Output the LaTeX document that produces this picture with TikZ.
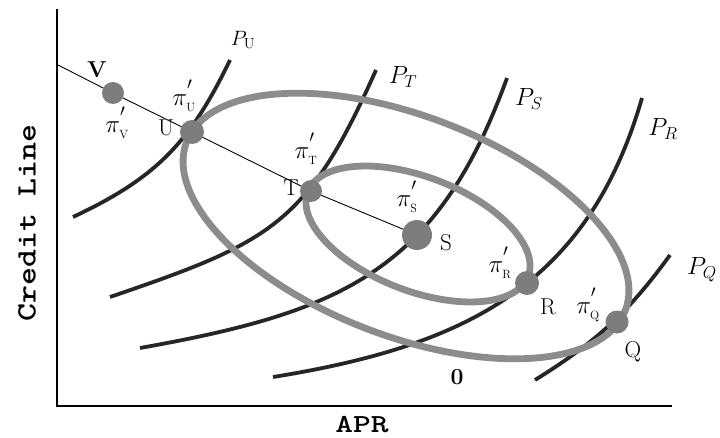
\documentclass[tikz,border=0pt]{standalone}
\usepackage{fontspec}
\usepackage{graphicx}
\definecolor{pdark}{RGB}{38,38,38}
\definecolor{egray}{RGB}{140,140,140}
\definecolor{dgray}{RGB}{125,125,125}
\newcommand{\pilabel}[1]{$\pi^{\raisebox{0.3em}{$\scriptstyle\prime$}}_{\scriptscriptstyle\mathrm{#1}}$}
\begin{document}
\begin{tikzpicture}[x=1pt,y=-1pt,
  pcurve/.style={draw=pdark, line width=3.8pt},
  oval/.style={draw=egray, line width=6.8pt},
  knot/.style={circle, fill=dgray, inner sep=0pt, minimum size=#1},
  lab/.style={font=\fontsize{23}{25}\selectfont, inner sep=0pt},
  pilab/.style={font=\fontsize{24}{26}\selectfont, inner sep=0pt},
  plab/.style={font=\fontsize{24}{26}\selectfont, inner sep=0pt},
  axlab/.style={font=\ttfamily\bfseries, inner sep=0pt}]
\useasboundingbox (0,0) rectangle (720,438);
% axes
\coordinate (O) at (57,406);
\coordinate (Ytop) at (57,9);
\coordinate (Xend) at (672,406);
\draw[line width=2.6pt] (Ytop) -- (O) -- (Xend);
% profit curves
\draw[pcurve] (73,217) .. controls (156,178) and (190,143) .. (230,60);
\draw[pcurve] (110,297) .. controls (271,242) and (307,225) .. (376,70);
\draw[pcurve] (140,348) .. controls (342,312) and (437,271) .. (507,78);
\draw[pcurve] (273,377) .. controls (466,346) and (588,285) .. (642,98);
\draw[pcurve] (535,380) .. controls (596,342) and (628,313) .. (670,255);
% ellipses
\draw[oval, rotate around={-21:(406,226)}] (406,226) ellipse [x radius=235pt, y radius=110pt];
\draw[oval, rotate around={-21:(418,234)}] (418,234) ellipse [x radius=118pt, y radius=57pt];
% straight line
\coordinate (L0) at (58,65);
\coordinate (cV) at (113,93);
\coordinate (cU) at (192,132);
\coordinate (cT) at (311,191);
\coordinate (cS) at (417,235);
\draw[line width=0.9pt] (L0) -- (cV) -- (cU) -- (cT) -- (cS);
% dots
\node[knot=22pt] (V) at (cV) {};
\node[knot=24pt] (U) at (cU) {};
\node[knot=22pt] (T) at (cT) {};
\node[knot=30pt] (S) at (cS) {};
\node[knot=24pt] (R) at (527,283) {};
\node[knot=23pt] (Q) at (617,322) {};
% point labels
\node[lab] (lV) at (97,70) {\bfseries V};
\node[lab] (lU) at (166,128) {U};
\node[lab] (lT) at (291,188) {T};
\node[lab] (lS) at (446,243) {S};
\node[lab] (lR) at (548,307) {R};
\node[lab] (lQ) at (633,352) {Q};
\node[lab] (l0) at (457,377) {\bfseries 0};
% pi labels
\node[pilab] (piV) at (117,123) {\pilabel{V}};
\node[pilab] (piU) at (184,96) {\pilabel{U}};
\node[pilab] (piT) at (306,149) {\pilabel{T}};
\node[pilab] (piS) at (407,197) {\pilabel{S}};
\node[pilab] (piR) at (500,263) {\pilabel{R}};
\node[pilab] (piQ) at (588,305) {\pilabel{Q}};
% curve labels
\node[plab, font=\fontsize{21}{23}\selectfont] (PU) at (243,40) {$P_{\mathrm{U}}$};
\node[plab] (PT) at (403,77) {$P_T$};
\node[plab] (PS) at (529,99) {$P_S$};
\node[plab] (PR) at (663,129) {$P_R$};
\node[plab] (PQ) at (702,270) {$P_Q$};
% axis labels
\node[axlab, rotate=90] (ylab) at (27,223) {\fontsize{28}{30}\selectfont\scalebox{1.22}[1]{Credit Line}};
\node[axlab, anchor=base] (xlab) at (362,432) {\fontsize{26}{28}\selectfont\scalebox{1.3}[1]{APR}};
\end{tikzpicture}
\end{document}
